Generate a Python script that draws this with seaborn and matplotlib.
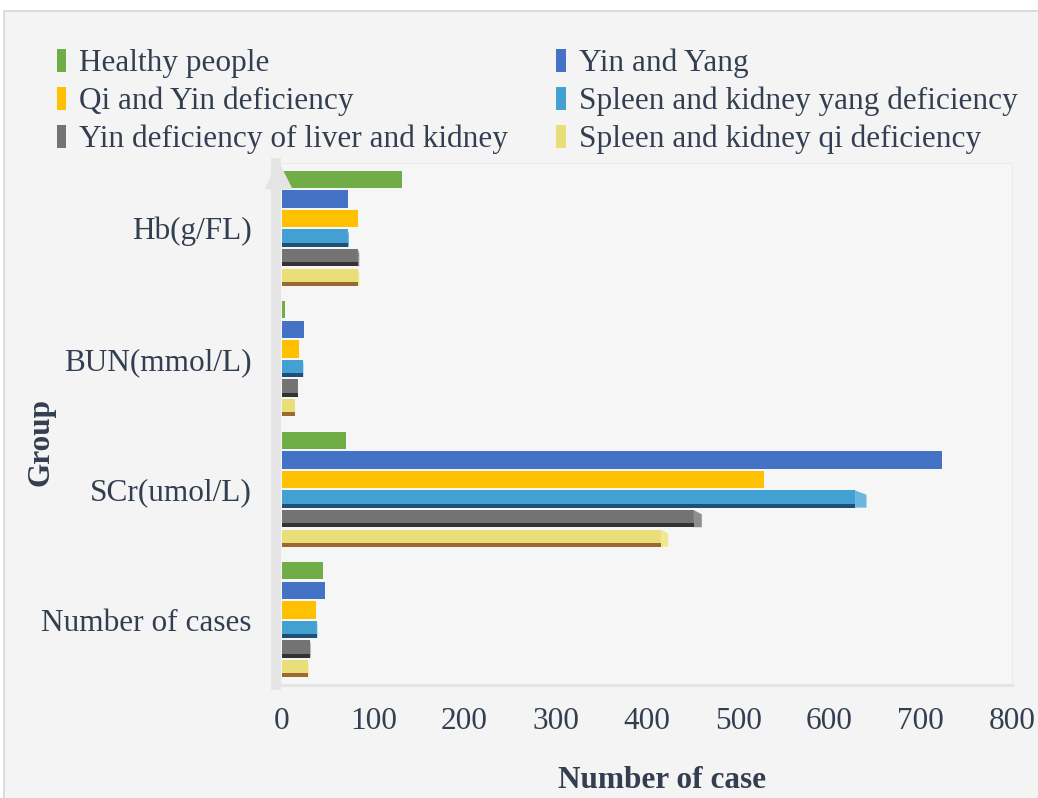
import seaborn as sns
import matplotlib.pyplot as plt
import matplotlib.transforms as mtransforms
from matplotlib.patches import Rectangle, Polygon
import pandas as pd

# Categories (top to bottom) and series values
categories = ['Hb(g/FL)', 'BUN(mmol/L)', 'SCr(umol/L)', 'Number of cases']
series = ['Healthy people', 'Yin and Yang', 'Qi and Yin deficiency',
          'Spleen and kidney yang deficiency', 'Yin deficiency of liver and kidney',
          'Spleen and kidney qi deficiency']
healthy = [131, 3, 70, 45]
yin_yang = [72, 24, 723, 47]
qi_yin = [83, 19, 528, 37]
spleen_kidney_yang = [72, 23, 628, 38]
yin_liver_kidney = [83, 17, 451, 31]
spleen_kidney_qi = [83, 14, 415, 29]

colors = ['#70AD47', '#4472C4', '#FFC000', '#42A1D1', '#737373', '#E8DF78']
strip_colors = [None, None, None, '#1F4E79', '#333333', '#9C6A2E']
side_colors = [None, None, None, '#6BB6DE', '#8E8E8E', '#F0E890']
text_color = '#333F50'

# Build long-form table for seaborn
values = [healthy, yin_yang, qi_yin, spleen_kidney_yang, yin_liver_kidney, spleen_kidney_qi]
rows = []
for name, vals in zip(series, values):
    for cat, v in zip(categories, vals):
        rows.append({'Group': cat, 'Number': v, 'Series': name})
df = pd.DataFrame(rows)

plt.rcParams['font.family'] = ['Liberation Serif', 'DejaVu Serif']

fig = plt.figure(figsize=(10.38, 7.98), dpi=100, facecolor='white')
fig.add_artist(Rectangle((4 / 1038, -0.01), 1.1, 1 - 11 / 798 + 0.01, transform=fig.transFigure,
                         facecolor='#f4f4f4', edgecolor='#d6d6d6', lw=1.2, zorder=0))

ax = fig.add_axes([282 / 1038, 1 - 685 / 798, (1012 - 282) / 1038, (685 - 163) / 798])
ax.set_facecolor('#f6f6f6')

sns.barplot(data=df, y='Group', x='Number', hue='Series', hue_order=series, order=categories,
            palette=colors, orient='h', width=0.9, gap=0.12, saturation=1,
            legend=False, ax=ax, errorbar=None)

# Darker bottom strip and a small lit end face on the "3D" bars
for container, sc, side in zip(ax.containers, strip_colors, side_colors):
    if sc is None:
        continue
    for p in container.patches:
        x0, y0, w, h = p.get_x(), p.get_y(), p.get_width(), p.get_height()
        z = p.get_zorder()
        d = w * 0.02
        ax.add_patch(Polygon([(x0 + w, y0), (x0 + w + d, y0 + h * 0.25),
                              (x0 + w + d, y0 + h), (x0 + w, y0 + h)],
                             closed=True, facecolor=side, edgecolor='none', zorder=z))
        ax.add_patch(Rectangle((x0, y0 + h * 0.76), w, h * 0.24,
                               facecolor=sc, edgecolor='none', zorder=z + 0.1))

ax.set_xlim(0, 800)
ax.set_ylim(3.5, -0.5)
ax.set_xticks(range(0, 801, 100))
ax.tick_params(axis='x', length=0, pad=16, labelsize=22.5, labelcolor=text_color)
ax.tick_params(axis='y', length=0, pad=18, labelsize=22.5, labelcolor=text_color)
ax.set_xlabel('')
ax.set_ylabel('')

for s in ['top', 'right']:
    ax.spines[s].set_color('#ebebeb')
ax.spines['bottom'].set_color('#e4e4e4')
ax.spines['bottom'].set_linewidth(2)
ax.spines['left'].set_color('#e4e4e4')
ax.spines['left'].set_linewidth(7)
ax.spines['left'].set_position(('outward', 4))

# Arrow head on the axis wall
arrow_tr = mtransforms.offset_copy(ax.transAxes, fig, x=-4, y=-12, units='dots')
ax.plot(0, 1, marker='^', ms=19, color='#e4e4e4', transform=arrow_tr, clip_on=False)

fig.text(662 / 1038, 1 - 780 / 798, 'Number of case', ha='center', va='center',
         fontsize=22.5, fontweight='bold', color=text_color)
fig.text(41 / 1038, 1 - 442 / 798, 'Group', ha='center', va='center', rotation=90,
         fontsize=22.5, fontweight='bold', color=text_color)

# Legend, filled row by row like the original
handles = [Rectangle((0, 0), 1, 1, facecolor=c, edgecolor='none') for c in colors]
order = [0, 2, 4, 1, 3, 5]
fig.legend([handles[i] for i in order], [series[i] for i in order], ncol=2,
           loc='upper left', bbox_to_anchor=(44 / 1038, 1 - 36 / 798), frameon=False,
           fontsize=22.5, labelcolor=text_color, handlelength=0.3, handleheight=0.75,
           handletextpad=0.42, columnspacing=1.55, labelspacing=0.28, borderaxespad=0)

plt.savefig('out.png', dpi=100, facecolor=fig.get_facecolor())
plt.close()
